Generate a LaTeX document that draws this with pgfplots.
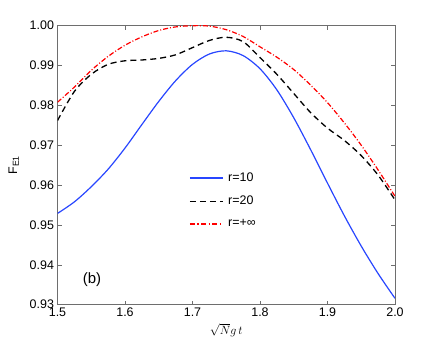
\documentclass[border=0pt]{standalone}
\usepackage{fontspec}
\setmainfont{Liberation Sans}
\usepackage{pgfplots}
\pgfplotsset{compat=1.18}
\definecolor{axisgray}{RGB}{110,110,110}
\definecolor{mblue}{RGB}{40,70,255}
\begin{document}
\begin{tikzpicture}
\path[use as bounding box] (-57.5bp,-38.3bp) rectangle (378.5bp,304.7bp);
\begin{axis}[
  scale only axis, width=337.5bp, height=279bp,
  xmin=1.5, xmax=2.0, ymin=0.93, ymax=1.0,
  xtick={1.5,1.6,1.7,1.8,1.9,2.0},
  ytick={0.93,0.94,0.95,0.96,0.97,0.98,0.99,1.00},
  tick align=inside, major tick length=4bp,
  axis line style={draw=axisgray, line width=0.8bp},
  every tick/.style={axisgray, line width=0.6bp},
  /pgf/number format/assume math mode=true,
  xticklabel style={/pgf/number format/.cd, fixed, fixed zerofill, precision=1},
  yticklabel style={/pgf/number format/.cd, fixed, fixed zerofill, precision=2},
  tick label style={font=\fontsize{12.5}{14}\selectfont},
  xlabel={$\sqrt{N}g\,t$},
  xlabel style={font=\fontsize{12.5}{14}\selectfont},
  ylabel={F\textsubscript{E1}},
  ylabel style={font=\fontsize{12.5}{14}\selectfont},
  ylabel shift=4bp,
  legend style={at={(0.3897,0.4780)}, anchor=north west, draw=none, fill=none,
    font=\fontsize{12.5}{14}\selectfont, row sep=10bp, column sep=3bp, inner sep=0pt,
    nodes={inner sep=1.5bp}},
  legend cell align=left,
  legend image code/.code={\draw[#1] (0bp,0bp) -- (33bp,0bp);},
  clip=true,
]
\addlegendimage{mblue, line width=1.4bp}
\addlegendentry{r=10}
\addlegendimage{black, line width=1.4bp, dash pattern=on 6bp off 4bp}
\addlegendentry{r=20}
\addlegendimage{red, line width=1.5bp, dash pattern=on 5bp off 2.5bp on 1.2bp off 2.5bp}
\addlegendentry{r=+∞}
\addplot[forget plot, mblue, line width=1.2bp, smooth] coordinates {
(1.500,0.9529)(1.525,0.9558)(1.550,0.9596)(1.575,0.9640)(1.600,0.9693)
(1.625,0.9752)(1.650,0.9810)(1.675,0.9862)(1.700,0.9903)(1.725,0.9929)
(1.750,0.9937)(1.775,0.9925)(1.800,0.9892)(1.825,0.9839)(1.850,0.9769)
(1.875,0.9689)(1.900,0.9605)(1.925,0.9523)(1.950,0.9447)(1.975,0.9378)
(2.000,0.9316)};
\addplot[forget plot, black, line width=1.3bp, dash pattern=on 6bp off 4bp, smooth] coordinates {
(1.500,0.9762)(1.525,0.9835)(1.550,0.9878)(1.575,0.9903)(1.600,0.9912)
(1.625,0.9914)(1.650,0.9918)(1.675,0.9927)(1.700,0.9945)(1.725,0.9963)
(1.750,0.9971)(1.775,0.9960)(1.800,0.9920)(1.825,0.9878)(1.850,0.9830)
(1.875,0.9782)(1.900,0.9743)(1.925,0.9712)(1.950,0.9674)(1.975,0.9625)
(2.000,0.9563)};
\addplot[forget plot, red, line width=1.2bp, dash pattern=on 5bp off 2bp on 1bp off 2bp, smooth] coordinates {
(1.500,0.9808)(1.525,0.9846)(1.550,0.9888)(1.575,0.9923)(1.600,0.9951)
(1.625,0.9972)(1.650,0.9988)(1.675,0.9997)(1.700,1.0000)(1.725,0.9999)
(1.750,0.9990)(1.775,0.9973)(1.800,0.9947)(1.825,0.9921)(1.850,0.9890)
(1.875,0.9851)(1.900,0.9807)(1.925,0.9756)(1.950,0.9700)(1.975,0.9638)
(2.000,0.9572)};
\node[font=\fontsize{15}{17}\selectfont] at (axis cs:1.551,0.9362) {(b)};
\end{axis}
\end{tikzpicture}
\end{document}
